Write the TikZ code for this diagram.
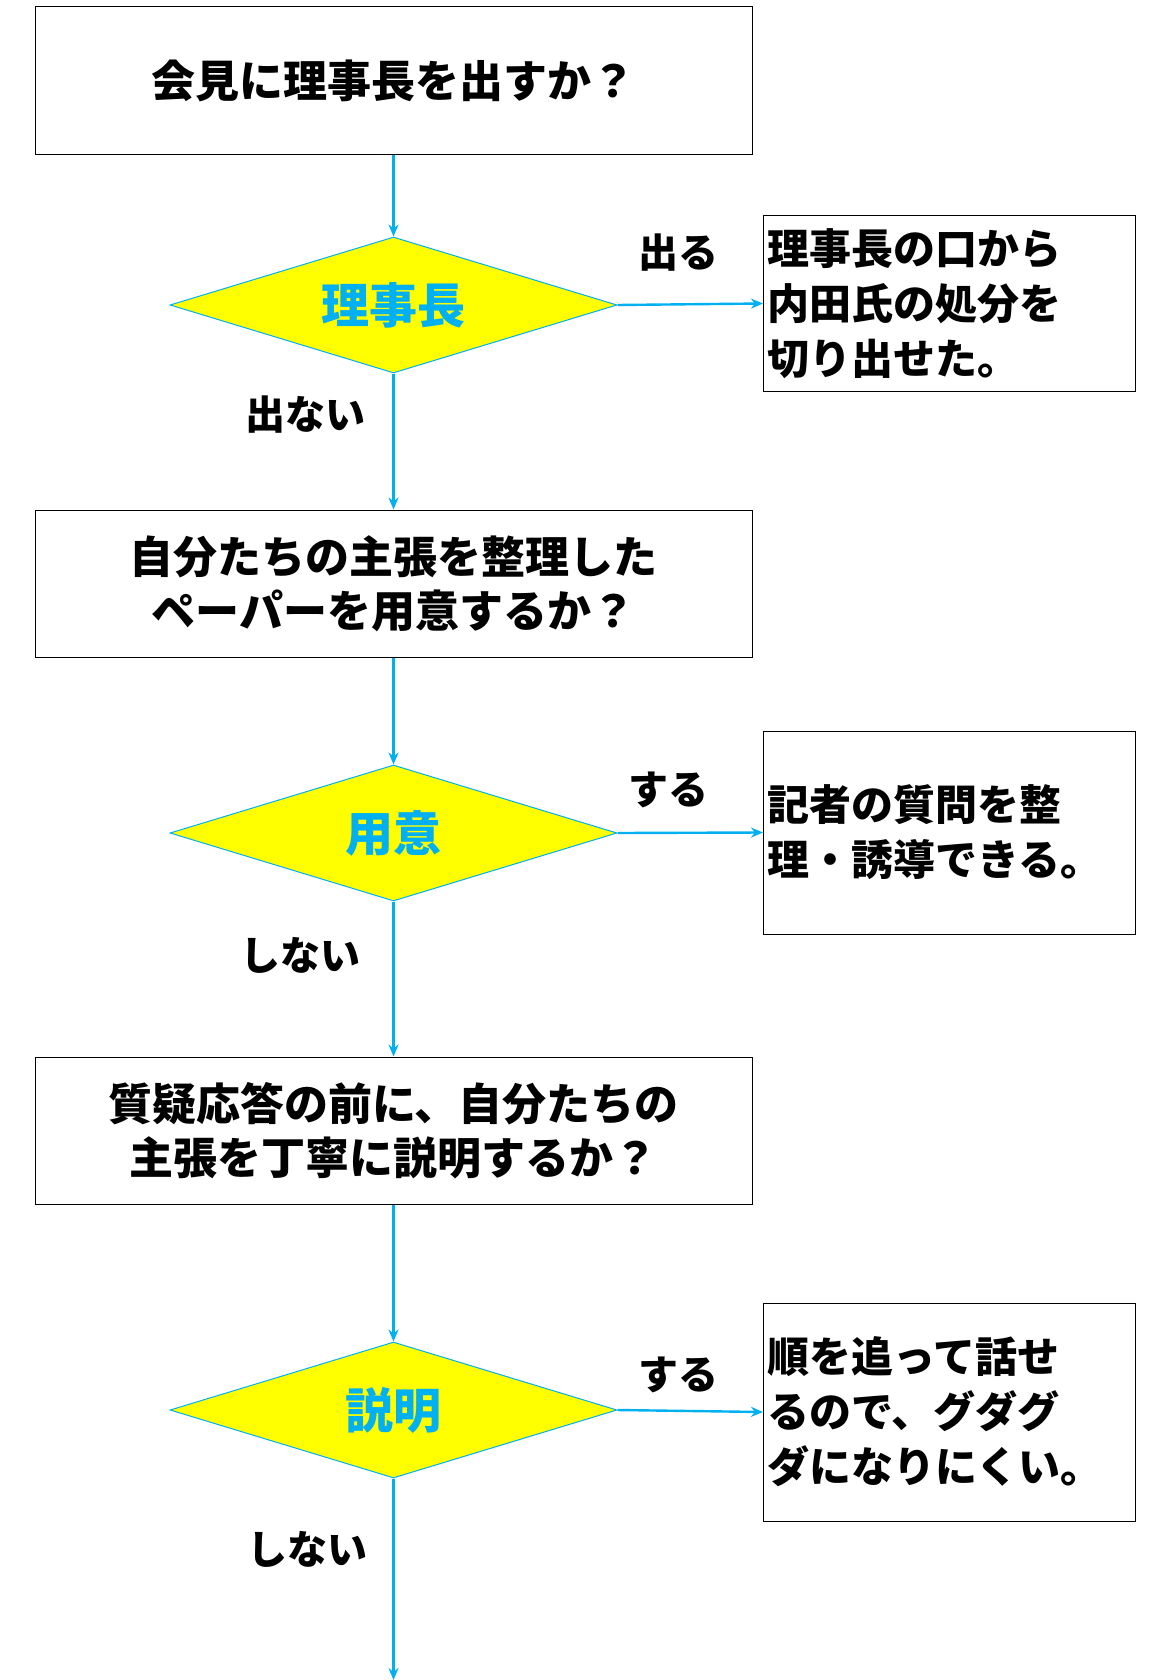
\documentclass[tikz,border=0pt]{standalone}
\usepackage{fontspec}
\setmainfont{Noto Sans CJK JP}
\usetikzlibrary{shapes.geometric,arrows.meta}
\definecolor{cy}{RGB}{0,176,240}
\definecolor{yl}{RGB}{255,255,0}
\begin{document}
\begin{tikzpicture}[x=0.5pt,y=-0.5pt,
  box/.style={draw=black,line width=0.5pt,minimum width=358.5pt,inner sep=0pt,align=center,font=\fontsize{22}{27}\selectfont\bfseries},
  rbox/.style={draw=black,line width=0.5pt,minimum width=186pt,inner sep=2pt,align=left,anchor=west,font=\fontsize{21}{27.5}\selectfont\bfseries},
  dia/.style={diamond,draw=cy,fill=yl,line width=0.5pt,aspect=3.3,minimum width=223.5pt,minimum height=68pt,inner sep=0pt,text=cy,font=\fontsize{24}{28}\selectfont\bfseries},
  lab/.style={font=\fontsize{20}{24}\selectfont\bfseries},
  arr/.style={draw=cy,line width=1.2pt,-{Stealth[length=6pt,width=5pt]}}]
\useasboundingbox (0,0) rectangle (1154,1680);
\node[box,minimum height=74pt] (q1) at (393.5,81) {会見に理事長を出すか？};
\node[dia] (d1) at (393.5,305) {理事長};
\node[rbox,minimum height=87.5pt,text width=182pt] (r1) at (763,303.5) {理事長の口から\\内田氏の処分を\\切り出せた。};
\node[box,minimum height=73.5pt] (q2) at (393.5,583.5) {自分たちの主張を整理した\\ペーパーを用意するか？};
\node[dia] (d2) at (393.5,833) {用意};
\node[rbox,minimum height=101.5pt,text width=182pt] (r2) at (763,832.5) {記者の質問を整\\理・誘導できる。};
\node[box,minimum height=73.5pt] (q3) at (393.5,1130.5) {質疑応答の前に、自分たちの\\主張を丁寧に説明するか？};
\node[dia] (d3) at (393.5,1410) {説明};
\node[rbox,minimum height=109pt,text width=182pt] (r3) at (763,1412) {順を追って話せ\\るので、グダグ\\ダになりにくい。};
\coordinate (end) at (393.5,1680);
\draw[arr] (q1) -- (d1);
\draw[arr] (d1) -- (q2);
\draw[arr] (q2) -- (d2);
\draw[arr] (d2) -- (q3);
\draw[arr] (q3) -- (d3);
\draw[arr] (d3) -- (end);
\draw[arr] (d1.east) -- (r1.west);
\draw[arr] (d2.east) -- (r2.west);
\draw[arr] (d3.east) -- (r3.west);
\node[lab] (l1) at (678,253) {出る};
\node[lab] (l2) at (305,415) {出ない};
\node[lab] (l3) at (668,790) {する};
\node[lab] (l4) at (300,955) {しない};
\node[lab] (l5) at (678,1375) {する};
\node[lab] (l6) at (307,1549) {しない};
\end{tikzpicture}
\end{document}
